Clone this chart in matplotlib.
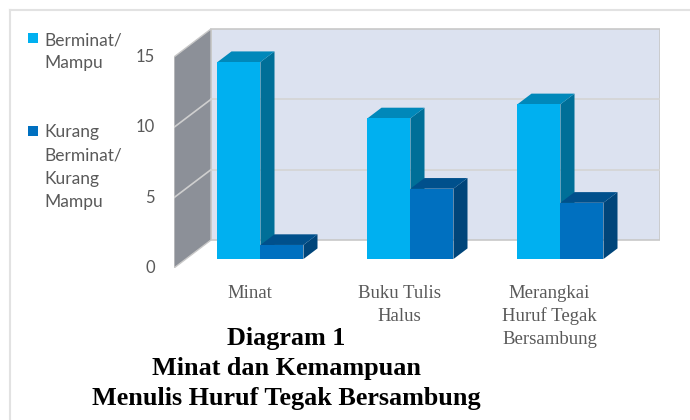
import matplotlib
matplotlib.use("Agg")
import matplotlib.pyplot as plt
from matplotlib.patches import Polygon, Rectangle
from matplotlib.lines import Line2D

# ---- data ----
categories = ["Minat", "Buku Tulis\nHalus", "Merangkai\nHuruf Tegak\nBersambung"]
series_names = ["Berminat/\nMampu", "Kurang\nBerminat/\nKurang\nMampu"]
berminat = [14, 10, 11]
kurang = [1, 5, 4]
yticks = [0, 5, 10, 15]
title_lines = ["Diagram 1", "Minat dan Kemampuan", "Menulis Huruf Tegak Bersambung"]

# ---- style ----
front_cols = ["#00B0F0", "#0070C0"]
top_cols = ["#0088BA", "#00508C"]
side_cols = ["#006F98", "#00457A"]
wall_back = "#DCE2F0"
wall_side = "#8C9098"
grid_col = "#D4D4D4"
text_gray = "#595959"
sans = ["Lato", "DejaVu Sans"]
serif = ["Liberation Serif", "DejaVu Serif"]

W, H = 690, 420
fig = plt.figure(figsize=(W / 100, H / 100), dpi=100)

# frame lines of the picture
fig.add_artist(Line2D([10 / W, 1], [1 - 10 / H, 1 - 10 / H], color="#E2E2E2", lw=1.5))
fig.add_artist(Line2D([10 / W, 10 / W], [0, 1 - 10 / H], color="#E2E2E2", lw=1.5))

# axes: front plane, px x 174..660, y 28..268
ax_l, ax_r, ax_t, ax_b = 174, 660, 28, 268
ax = fig.add_axes([ax_l / W, 1 - ax_b / H, (ax_r - ax_l) / W, (ax_b - ax_t) / H])
PXX = 150.0   # px per category unit
PXY = 14.07   # px per value unit
x0 = -(248.6 - ax_l) / PXX
ax.set_xlim(x0, x0 + (ax_r - ax_l) / PXX)
ax.set_ylim(0, (ax_b - ax_t) / PXY)
for s in ax.spines.values():
    s.set_visible(False)
ax.set_xticks([])
ax.set_yticks(yticks)
ax.set_yticklabels([str(t) for t in yticks], fontfamily=sans, fontsize=12, color=text_gray)
for lab in ax.get_yticklabels():
    lab.set_verticalalignment("center")
ax.tick_params(axis="y", length=0, pad=13.7)
ax.patch.set_alpha(0)

DX = 37 / PXX   # depth shift (full depth) in x units
DY = 28 / PXY   # depth shift in y units
ymax = yticks[-1]
xl = x0
xr = x0 + (ax_r - ax_l) / PXX - DX

def sh(x, y, d):
    return (x + d * DX, y + d * DY)

# back wall
ax.add_patch(Polygon([sh(xl, 0, 1), sh(xr, 0, 1), sh(xr, ymax, 1), sh(xl, ymax, 1)],
                     closed=True, facecolor=wall_back, edgecolor="#C8C8C8", lw=1.2, zorder=1))
# side wall
ax.add_patch(Polygon([sh(xl, 0, 0), sh(xl, 0, 1), sh(xl, ymax, 1), sh(xl, ymax, 0)],
                     closed=True, facecolor=wall_side, edgecolor="#C8C8C8", lw=1.0, zorder=1))
# gridlines
for t in yticks[1:-1]:
    a = sh(xl, t, 1); b = sh(xr, t, 1)
    ax.plot([a[0], b[0]], [a[1], b[1]], color=grid_col, lw=1.2, zorder=1.5)
    c = sh(xl, t, 0)
    ax.plot([c[0], a[0]], [c[1], a[1]], color="#CFCFCF", lw=1.2, zorder=1.5)

# bars
bw = 43 / PXX
d0, d1 = 0.32, 0.70
z = 3
for i in range(len(categories)):
    for k, vals in enumerate([berminat, kurang]):
        v = vals[i]
        left = i - bw + k * bw
        fx, fy = sh(left, 0, d0)
        # side face
        ax.add_patch(Polygon([sh(left + bw, 0, d0), sh(left + bw, 0, d1),
                              sh(left + bw, v, d1), sh(left + bw, v, d0)],
                             closed=True, facecolor=side_cols[k], edgecolor="none", zorder=z))
        # top face
        ax.add_patch(Polygon([sh(left, v, d0), sh(left + bw, v, d0),
                              sh(left + bw, v, d1), sh(left, v, d1)],
                             closed=True, facecolor=top_cols[k], edgecolor="none", zorder=z + 0.1))
        # front face
        ax.bar(fx, v, width=bw, bottom=fy, align="edge", color=front_cols[k],
               edgecolor="none", zorder=z + 0.2)
        z += 1

# category labels (one text per line, baselines 23 px apart)
for i, c in enumerate(categories):
    for n, line in enumerate(c.split("\n")):
        ax.text(i + 1 / PXX, (ax_b - (298 + 23 * n)) / PXY, line, ha="center",
                va="baseline", fontfamily=serif, fontsize=13.5, color=text_gray,
                clip_on=False)

# legend
sq = 10
for k, (name, ytop, base) in enumerate(zip(series_names, [33, 126], [45, 137.5])):
    fig.add_artist(Rectangle((28 / W, 1 - (ytop + sq) / H), sq / W, sq / H,
                             facecolor=front_cols[k], edgecolor="none"))
    for n, line in enumerate(name.split("\n")):
        fig.text(44 / W, 1 - (base + 23.3 * n) / H, line, ha="left", va="baseline",
                 fontfamily=sans, fontsize=12.5, color=text_gray)

# title
for j, (line, yb) in enumerate(zip(title_lines, [345, 375, 405])):
    fig.text(286 / W, 1 - yb / H, line, ha="center", va="baseline",
             fontfamily=serif, fontweight="bold", fontsize=18.8, color="black")

fig.savefig("out.png", dpi=100, facecolor="white")
